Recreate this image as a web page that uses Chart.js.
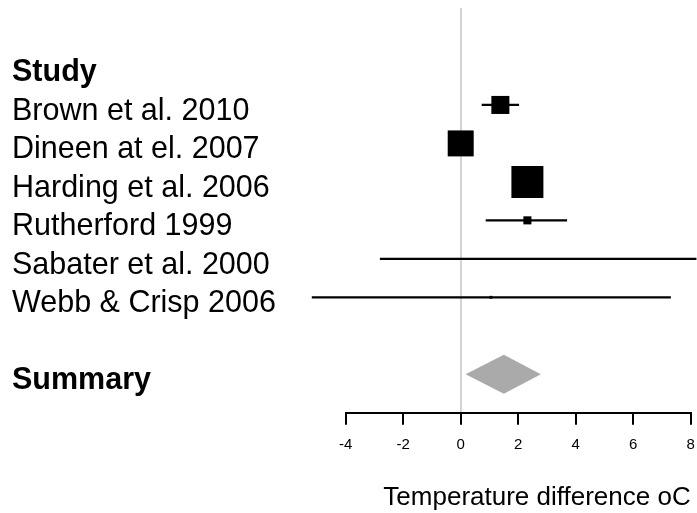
<!DOCTYPE html>
<html>
<head>
    <title>Forest plot</title>
    <script src="https://cdn.jsdelivr.net/npm/chart.js"></script>
    <style>
        body {
            margin: 0;
            background: #fff;
        }
        #chartContainer {
            width: 697px;
            height: 513px;
        }
    </style>
</head>
<body>
    <div id="chartContainer">
        <canvas id="myChart"></canvas>
    </div>

    <script>
        // Study data (temperature difference, oC)
        const studies = ['Brown et al. 2010', 'Dineen at el. 2007', 'Harding et al. 2006',
                         'Rutherford 1999', 'Sabater et al. 2000', 'Webb & Crisp 2006'];
        const estimates = [1.38, 0.0, 2.32, 2.32, 2.64, 1.05];
        const lower = [0.73, -0.35, 2.0, 0.87, -2.81, -5.18];
        const upper = [2.03, 0.35, 2.6, 3.70, 8.2, 7.31];
        const weights = [15.5, 32.2, 48.8, 3.1, 0.02, 0.4];   // % weight
        const summary = [0.17, 1.5, 2.79];                    // lower, estimate, upper
        const xTicks = [-4, -2, 0, 2, 4, 6, 8];

        // row layout: 0 = header, 1..6 = studies, 8 = summary
        const studyRows = studies.map((s, i) => i + 1);
        const summaryRow = 8;
        const rowLabels = ['Study'].concat(studies, ['Summary']);
        const labelRows = [0].concat(studyRows, [summaryRow]);

        const FONT = "'Liberation Sans', Arial, sans-serif";

        const ciSets = studies.map((s, i) => ({
            data: [{x: lower[i], y: studyRows[i]}, {x: upper[i], y: studyRows[i]}],
            showLine: true,
            borderColor: '#000',
            borderWidth: 2.3,
            pointRadius: 0,
            clip: false,
            order: 2
        }));

        const squareSet = {
            data: studies.map((s, i) => ({x: estimates[i], y: studyRows[i]})),
            pointStyle: 'rect',
            pointRadius: weights.map(w => 4.58 * Math.sqrt(w) / Math.SQRT2),
            pointHoverRadius: weights.map(w => 4.58 * Math.sqrt(w) / Math.SQRT2),
            backgroundColor: '#000',
            borderWidth: 0,
            clip: false,
            order: 0
        };

        const dh = 0.506;
        const diamondSet = {
            data: [
                {x: summary[0], y: summaryRow},
                {x: summary[1], y: summaryRow - dh},
                {x: summary[2], y: summaryRow},
                {x: summary[1], y: summaryRow + dh},
                {x: summary[0], y: summaryRow}
            ],
            showLine: true,
            fill: 'shape',
            backgroundColor: '#aaaaaa',
            borderColor: '#aaaaaa',
            borderWidth: 0,
            pointRadius: 0,
            tension: 0,
            order: 1
        };

        const ctx = document.getElementById('myChart').getContext('2d');
        new Chart(ctx, {
            type: 'scatter',
            data: {
                datasets: ciSets.concat([squareSet, diamondSet])
            },
            options: {
                responsive: true,
                maintainAspectRatio: false,
                animation: false,
                layout: {
                    autoPadding: false,
                    padding: {left: 12, right: 6.3, top: 8, bottom: 0}
                },
                plugins: {
                    legend: {display: false},
                    tooltip: {enabled: false}
                },
                scales: {
                    x: {
                        type: 'linear',
                        min: -4,
                        max: 8,
                        afterBuildTicks: scale => {
                            scale.ticks = xTicks.map(v => ({value: v}));
                        },
                        afterFit: scale => {
                            scale.height = 100.3;
                            scale.paddingLeft = 0;
                            scale.paddingRight = 0;
                        },
                        ticks: {
                            color: '#000',
                            padding: 11,
                            font: {family: FONT, size: 15}
                        },
                        grid: {
                            color: c => (c.tick && c.tick.value === 0) ? '#d3d3d3' : 'rgba(0,0,0,0)',
                            lineWidth: 2,
                            drawTicks: true,
                            tickLength: 12,
                            tickColor: '#000',
                            tickWidth: 2
                        },
                        border: {display: true, color: '#000', width: 2},
                        title: {
                            display: true,
                            text: 'Temperature difference oC',
                            align: 'end',
                            color: '#000',
                            padding: {top: 0, bottom: 0},
                            font: {family: FONT, size: 26}
                        }
                    },
                    y: {
                        type: 'linear',
                        reverse: true,
                        min: -1.52,
                        max: 9.0,
                        afterBuildTicks: scale => {
                            // labels sit a little below the marker centres
                            scale.ticks = labelRows.map(v => ({value: v + 0.17}));
                        },
                        afterFit: scale => {
                            scale.width = 333.7;
                            scale.paddingTop = 0;
                            scale.paddingBottom = 0;
                        },
                        ticks: {
                            crossAlign: 'far',
                            color: '#000',
                            padding: 0,
                            autoSkip: false,
                            callback: (value, index) => rowLabels[index],
                            font: c => ({
                                family: FONT,
                                size: 30.5,
                                weight: (c.index === 0 || c.index === rowLabels.length - 1) ? 'bold' : 'normal'
                            })
                        },
                        grid: {display: false, drawTicks: false},
                        border: {display: false}
                    }
                }
            }
        });
    </script>
</body>
</html>
